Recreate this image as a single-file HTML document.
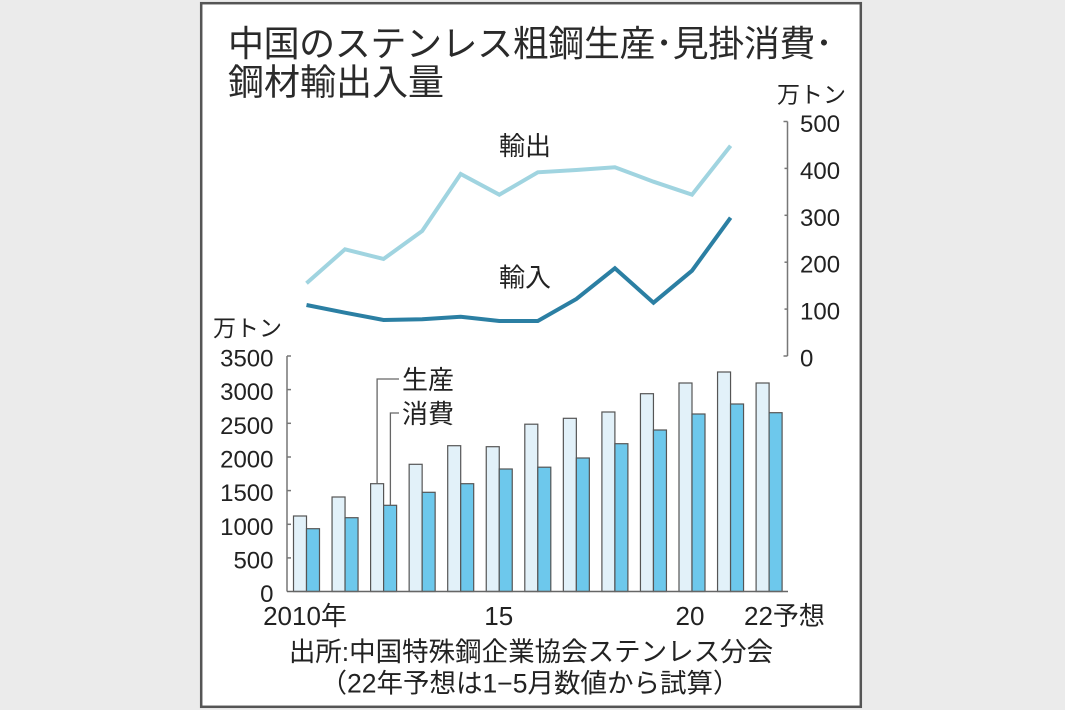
<!DOCTYPE html>
<html><head><meta charset="utf-8"><style>
html,body{margin:0;padding:0;background:#ebebeb;}
svg{display:block;}
text{font-family:"Liberation Sans","Noto Sans CJK JP",sans-serif;fill:#222;}
</style></head><body>
<svg width="1065" height="710" viewBox="0 0 1065 710" xmlns="http://www.w3.org/2000/svg">
<rect x="0" y="0" width="1065" height="710" fill="#ebebeb"/>
<rect x="201.2" y="3.2" width="659.6" height="703.6" fill="#fff" stroke="#555" stroke-width="2.5"/>

<!-- Title -->
<text x="228" y="56" font-size="36" textLength="605" lengthAdjust="spacing" style="fill:#2a2a2a">中国のステンレス粗鋼生産･見掛消費･</text>
<text x="228" y="94.5" font-size="36" style="fill:#2a2a2a">鋼材輸出入量</text>

<!-- Units -->
<text x="777" y="102.5" font-size="23">万トン</text>
<text x="213" y="336" font-size="23">万トン</text>

<!-- Right axis -->
<g stroke="#777" stroke-width="1.5" fill="none">
<line x1="787.5" y1="121.5" x2="787.5" y2="356"/>
<line x1="783.5" y1="121.5" x2="787.5" y2="121.5"/>
<line x1="784.5" y1="168.4" x2="787.5" y2="168.4"/>
<line x1="784.5" y1="215.3" x2="787.5" y2="215.3"/>
<line x1="784.5" y1="262.2" x2="787.5" y2="262.2"/>
<line x1="784.5" y1="309.1" x2="787.5" y2="309.1"/>
<line x1="783.5" y1="356" x2="787.5" y2="356"/>
</g>
<g font-size="24">
<text x="800" y="132">500</text>
<text x="800" y="178.9">400</text>
<text x="800" y="225.8">300</text>
<text x="800" y="272.7">200</text>
<text x="800" y="319.6">100</text>
<text x="800" y="366.5">0</text>
</g>

<!-- Lines -->
<polyline fill="none" stroke="#a0d4e0" stroke-width="4" stroke-linejoin="miter"
 points="306.5,283.3 345,249.3 383.5,259 422.2,231 460.7,174 499.3,194.7 537.8,172.3 576.4,170 614.9,167.3 653.5,181.7 692,194.7 730.6,145.7"/>
<polyline fill="none" stroke="#2b7fa3" stroke-width="4" stroke-linejoin="miter"
 points="306.5,305 345,312.7 383.5,320 422.2,319.3 460.7,316.7 499.3,321 537.8,321 576.4,299 614.9,268.3 653.5,302.7 692,270.7 730.6,217.7"/>
<text x="499" y="155" font-size="26">輸出</text>
<text x="499" y="286.5" font-size="26">輸入</text>

<!-- Left axis -->
<g stroke="#777" stroke-width="1.5" fill="none">
<line x1="287" y1="356" x2="287" y2="591.5"/>
<line x1="287" y1="356" x2="291" y2="356"/>
<line x1="287" y1="389.6" x2="291" y2="389.6"/>
<line x1="287" y1="423.3" x2="291" y2="423.3"/>
<line x1="287" y1="457" x2="291" y2="457"/>
<line x1="287" y1="490.6" x2="291" y2="490.6"/>
<line x1="287" y1="524.3" x2="291" y2="524.3"/>
<line x1="287" y1="557.9" x2="291" y2="557.9"/>
</g>
<g font-size="24" text-anchor="end">
<text x="273.5" y="366.5">3500</text>
<text x="273.5" y="400.1">3000</text>
<text x="273.5" y="433.8">2500</text>
<text x="273.5" y="467.5">2000</text>
<text x="273.5" y="501.1">1500</text>
<text x="273.5" y="534.8">1000</text>
<text x="273.5" y="568.4">500</text>
<text x="273.5" y="602">0</text>
</g>

<!-- Bars -->
<g stroke="#555" stroke-width="1.2">
<g fill="#e2f1f9">
<rect x="293.5" y="516" width="13" height="75.5"/>
<rect x="332.05" y="497" width="13" height="94.5"/>
<rect x="370.6" y="483.7" width="13" height="107.8"/>
<rect x="409.15" y="464.3" width="13" height="127.2"/>
<rect x="447.7" y="445.7" width="13" height="145.8"/>
<rect x="486.25" y="446.7" width="13" height="144.8"/>
<rect x="524.8" y="424.2" width="13" height="167.3"/>
<rect x="563.35" y="418.3" width="13" height="173.2"/>
<rect x="601.9" y="412" width="13" height="179.5"/>
<rect x="640.45" y="393.7" width="13" height="197.8"/>
<rect x="679" y="383" width="13" height="208.5"/>
<rect x="717.55" y="372" width="13" height="219.5"/>
<rect x="756.1" y="383" width="13" height="208.5"/>
</g>
<g fill="#6dc8ec">
<rect x="306.5" y="528.7" width="13" height="62.8"/>
<rect x="345.05" y="517.7" width="13" height="73.8"/>
<rect x="383.6" y="505.3" width="13" height="86.2"/>
<rect x="422.15" y="492.3" width="13" height="99.2"/>
<rect x="460.7" y="483.7" width="13" height="107.8"/>
<rect x="499.25" y="469" width="13" height="122.5"/>
<rect x="537.8" y="467.2" width="13" height="124.3"/>
<rect x="576.35" y="458" width="13" height="133.5"/>
<rect x="614.9" y="443.7" width="13" height="147.8"/>
<rect x="653.45" y="430" width="13" height="161.5"/>
<rect x="692" y="414" width="13" height="177.5"/>
<rect x="730.55" y="404" width="13" height="187.5"/>
<rect x="769.1" y="412.7" width="13" height="178.8"/>
</g>
</g>
<line x1="287" y1="591.5" x2="788" y2="591.5" stroke="#666" stroke-width="1.6"/>

<!-- Legend leaders -->
<g stroke="#666" stroke-width="1.3" fill="none">
<polyline points="377.1,483.7 377.1,379 399,379"/>
<polyline points="390.4,505.3 390.4,413 399,413"/>
</g>
<text x="402" y="389" font-size="26">生産</text>
<text x="402" y="423" font-size="26">消費</text>

<!-- X labels -->
<g font-size="26">
<text x="305" y="625" text-anchor="middle">2010年</text>
<text x="498.7" y="625" text-anchor="middle">15</text>
<text x="690" y="625" text-anchor="middle">20</text>
<text x="744" y="625">22予想</text>
</g>

<!-- Footer -->
<text x="531" y="661" font-size="26.5" text-anchor="middle">出所:中国特殊鋼企業協会ステンレス分会</text>
<text x="530" y="692.5" font-size="26.5" text-anchor="middle">（22年予想は1−5月数値から試算）</text>
</svg>
</body></html>
